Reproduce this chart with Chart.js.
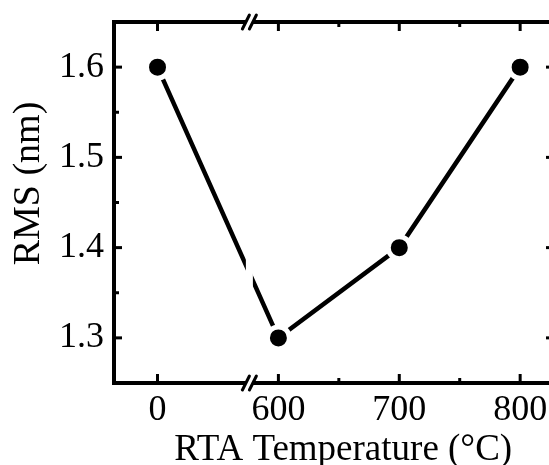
<!DOCTYPE html>
<html>
<head>
<meta charset="utf-8">
<script src="https://cdn.jsdelivr.net/npm/chart.js@4.4.1/dist/chart.umd.min.js"></script>
<style>
html, body { margin: 0; padding: 0; background: #fff; overflow: hidden; }
#wrap { width: 549px; height: 465px; overflow: hidden; }
</style>
</head>
<body>
<div id="wrap"><canvas id="myChart" width="570" height="465"></canvas></div>
<script>
// data
const temps = [0, 600, 700, 800];          // RTA temperature (C), axis broken after 0
const rms = [1.6, 1.3, 1.4, 1.6];          // RMS roughness (nm)
const xMinorTemps = [650, 750];
const yMajor = [1.3, 1.4, 1.5, 1.6];
const yMinor = [1.35, 1.45, 1.55];
const yRange = [1.25, 1.65];
const xRange = [-0.36, 3.28];              // in category units
const breakAt = 0.76;                      // axis break between 0 and 600

const serif = 'Liberation Serif, Times New Roman, serif';

// position of a temperature on the index axis (after the break)
function tempPos(t) {
  for (let i = 1; i < temps.length - 1; i++) {
    if (t >= temps[i] && t <= temps[i + 1]) return i + (t - temps[i]) / (temps[i + 1] - temps[i]);
  }
  return temps.indexOf(t);
}

// frame, inward ticks and the axis break
const framePlugin = {
  id: 'frame',
  afterDraw(chart) {
    const { ctx, chartArea: a, scales: { x, y } } = chart;
    const bx = x.getPixelForValue(breakAt);
    ctx.save();
    // gap in the data line at the break
    ctx.fillStyle = '#fff';
    ctx.fillRect(bx - 3.5, a.top, 7, a.bottom - a.top);

    ctx.strokeStyle = '#000';
    ctx.lineWidth = 4;
    ctx.strokeRect(a.left, a.top, a.right - a.left, a.bottom - a.top);

    ctx.lineWidth = 3;
    const tick = (x1, y1, x2, y2) => { ctx.beginPath(); ctx.moveTo(x1, y1); ctx.lineTo(x2, y2); ctx.stroke(); };
    temps.forEach((t, i) => {
      const px = x.getPixelForValue(i);
      tick(px, a.bottom, px, a.bottom - 9);
      tick(px, a.top, px, a.top + 9);
    });
    xMinorTemps.forEach(t => {
      const px = x.getPixelForValue(tempPos(t));
      tick(px, a.bottom, px, a.bottom - 5);
      tick(px, a.top, px, a.top + 5);
    });
    yMajor.forEach(v => {
      const py = y.getPixelForValue(v);
      tick(a.left, py, a.left + 8, py);
      tick(a.right, py, a.right - 8, py);
    });
    yMinor.forEach(v => {
      const py = y.getPixelForValue(v);
      tick(a.left, py, a.left + 5, py);
      tick(a.right, py, a.right - 5, py);
    });

    // break marks //
    [a.top, a.bottom].forEach(ay => {
      ctx.fillStyle = '#fff';
      ctx.beginPath();
      ctx.moveTo(bx - 6, ay + 4);
      ctx.lineTo(bx - 2, ay - 4);
      ctx.lineTo(bx + 6, ay - 4);
      ctx.lineTo(bx + 2, ay + 4);
      ctx.closePath();
      ctx.fill();
      ctx.lineWidth = 3;
      ctx.lineCap = 'round';
      [-3.5, 3.5].forEach(d => tick(bx + d - 3.5, ay + 7, bx + d + 3.5, ay - 7));
    });
    ctx.restore();
  }
};

const data = {
  datasets: [{
    data: rms.map((v, i) => ({ x: i, y: v })),
    borderColor: '#000',
    borderWidth: 4.5,
    tension: 0,
    pointRadius: 11,
    pointBackgroundColor: '#000',
    pointBorderColor: '#fff',
    pointBorderWidth: 5
  }]
};

const config = {
  type: 'line',
  data: data,
  options: {
    responsive: false,
    animation: false,
    layout: { padding: { top: 22, right: 14, left: 10, bottom: 0 } },
    plugins: { legend: { display: false }, tooltip: { enabled: false } },
    scales: {
      x: {
        type: 'linear',
        min: xRange[0],
        max: xRange[1],
        afterBuildTicks: s => { s.ticks = temps.map((t, i) => ({ value: i })); },
        ticks: {
          font: { family: serif, size: 36, lineHeight: 1 },
          color: '#000',
          padding: 10,
          maxRotation: 0,
          autoSkip: false,
          callback: v => temps[v]
        },
        grid: { display: false, drawTicks: false },
        border: { display: false },
        title: {
          display: true,
          text: '  RTA Temperature (°C)',
          font: { family: serif, size: 37, lineHeight: 1 },
          color: '#000',
          padding: { top: -7, bottom: -4 }
        }
      },
      y: {
        min: yRange[0],
        max: yRange[1],
        afterBuildTicks: s => { s.ticks = yMajor.map(v => ({ value: v })); },
        ticks: {
          font: { family: serif, size: 36, lineHeight: 0.6 },
          color: '#000',
          padding: 10,
          callback: v => v.toFixed(1)
        },
        grid: { display: false, drawTicks: false },
        border: { display: false },
        title: {
          display: true,
          text: '    RMS (nm)',
          font: { family: serif, size: 38, lineHeight: 1 },
          color: '#000',
          padding: { top: 0, bottom: 1 }
        }
      }
    }
  },
  plugins: [framePlugin]
};

const myChart = new Chart(document.getElementById('myChart'), config);
</script>
</body>
</html>
